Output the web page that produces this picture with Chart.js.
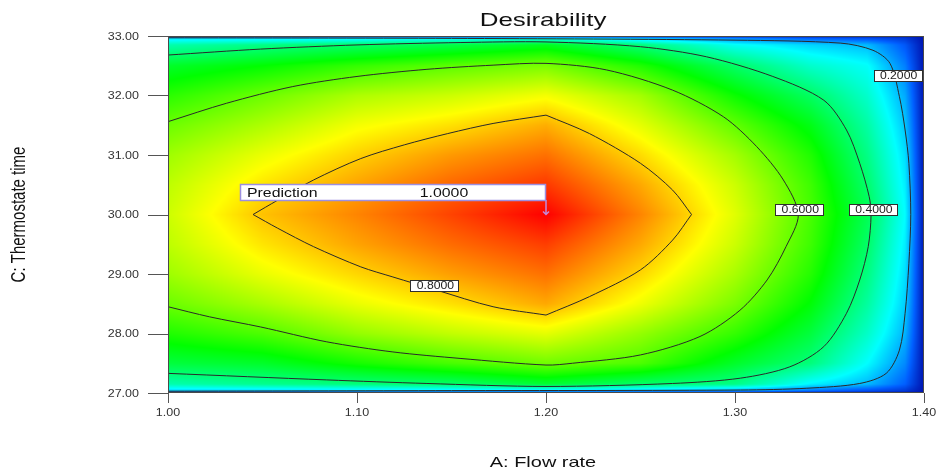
<!DOCTYPE html>
<html>
<head>
<meta charset="utf-8">
<title>Desirability</title>
<script src="https://cdn.jsdelivr.net/npm/chart.js@4.4.1/dist/chart.umd.min.js"></script>
<style>
  html, body { margin: 0; padding: 0; background: #fff; }
  #wrap { width: 946px; height: 468px; position: relative; }
</style>
</head>
<body>
<div id="wrap"><canvas id="desirabilityChart"></canvas></div>
<script>
// Response surface grid: columns follow A (flow rate), rows follow C (thermostate time)
const flowRate = [1.00, 1.05, 1.10, 1.15, 1.20, 1.25, 1.30, 1.34, 1.37, 1.39, 1.40];
const thermoTime = [27.00, 27.04, 27.15, 27.5, 28.0, 28.5, 29.0, 29.5, 30.0, 30.5, 31.0, 31.5, 32.0, 32.5, 32.85, 32.96, 33.00];
const desirability = [
  [0,    0,     0,    0,    0,     0,     0,     0,     0,     0,     0],
  [0.21, 0.21,  0.22, 0.22, 0.22,  0.20,  0.17,  0.12,  0.08,  0.05,  0],
  [0.33, 0.36,  0.38, 0.40, 0.45,  0.40,  0.37,  0.24,  0.185, 0.10,  0],
  [0.44, 0.46,  0.52, 0.57, 0.61,  0.575, 0.46,  0.38,  0.25,  0.14,  0],
  [0.53, 0.575, 0.645,0.69, 0.725, 0.645, 0.55,  0.44,  0.305, 0.18,  0],
  [0.605,0.665, 0.73, 0.78, 0.835, 0.735, 0.62,  0.495, 0.345, 0.205, 0],
  [0.655,0.73,  0.79, 0.845,0.89,  0.79,  0.665, 0.535, 0.375, 0.22,  0],
  [0.685,0.775, 0.84, 0.895,0.94,  0.835, 0.70,  0.56,  0.40,  0.235, 0],
  [0.70, 0.81,  0.87, 0.935,1.00,  0.87,  0.72,  0.57,  0.42,  0.25,  0],
  [0.685,0.775, 0.84, 0.90, 0.945, 0.835, 0.70,  0.56,  0.395, 0.235, 0],
  [0.655,0.73,  0.795,0.85, 0.89,  0.785, 0.66,  0.53,  0.37,  0.22,  0],
  [0.605,0.67,  0.74, 0.78, 0.83,  0.725, 0.595, 0.48,  0.34,  0.197, 0],
  [0.54, 0.605, 0.67, 0.70, 0.74,  0.66,  0.51,  0.405, 0.30,  0.17,  0],
  [0.46, 0.50,  0.55, 0.59, 0.62,  0.53,  0.40,  0.30,  0.255, 0.13,  0],
  [0.33, 0.37,  0.40, 0.43, 0.47,  0.38,  0.26,  0.21,  0.185, 0.09,  0],
  [0.22, 0.22,  0.23, 0.25, 0.27,  0.20,  0.14,  0.10,  0.08,  0.05,  0],
  [0,    0,     0,    0,    0,     0,     0,     0,     0,     0,     0]
];

// Contour lines [flow rate, thermostate time]
const contour02 = [[1.00,32.97],[1.15,32.96],[1.30,32.93],[1.356,32.88],[1.373,32.76],[1.382,32.54],[1.387,31.98],[1.390,31.42],[1.392,30.86],[1.393,30.00],[1.392,29.18],[1.390,28.34],[1.387,27.72],[1.380,27.33],[1.366,27.16],[1.338,27.08],[1.303,27.05],[1.15,27.04],[1.00,27.03]];
const contour04 = [[1.00,32.68],[1.049,32.78],[1.10,32.85],[1.155,32.89],[1.20,32.90],[1.25,32.82],[1.285,32.65],[1.320,32.32],[1.347,31.92],[1.359,31.42],[1.366,30.86],[1.371,30.30],[1.372,30.00],[1.3705,29.46],[1.366,28.90],[1.359,28.34],[1.347,27.78],[1.329,27.44],[1.303,27.25],[1.267,27.16],[1.20,27.11],[1.137,27.16],[1.084,27.22],[1.00,27.33]];
const contour06 = [[1.00,31.56],[1.031,31.87],[1.066,32.15],[1.10,32.32],[1.137,32.44],[1.172,32.51],[1.20,32.54],[1.232,32.43],[1.267,32.09],[1.294,31.64],[1.3115,31.14],[1.3256,30.58],[1.3335,30.00],[1.327,29.46],[1.317,28.90],[1.3026,28.39],[1.2815,27.95],[1.25,27.64],[1.214,27.50],[1.20,27.47],[1.155,27.58],[1.119,27.69],[1.084,27.86],[1.049,28.11],[1.022,28.28],[1.00,28.45]];
const contour08 = [[1.045,30.00],[1.058,30.24],[1.077,30.58],[1.102,30.94],[1.125,31.17],[1.148,31.36],[1.172,31.53],[1.200,31.67],[1.223,31.36],[1.250,30.86],[1.267,30.41],[1.277,30.00],[1.267,29.57],[1.250,29.07],[1.223,28.62],[1.200,28.31],[1.172,28.45],[1.142,28.73],[1.119,28.95],[1.102,29.12],[1.077,29.46],[1.058,29.77],[1.045,30.00]];
// the 0.8 ring has sharp corners at these points
const contour08Corners = [0, 7, 11, 15, 22];

const contourLevels = [0.2, 0.4, 0.6, 0.8];
const contourLabelAt = [[1.386, 32.35], [1.373, 30.10], [1.334, 30.10], [1.141, 28.82]];

const predictionAt = [1.20, 30.00];
const predictionValue = 1.0;

const xTicks = [1.00, 1.10, 1.20, 1.30, 1.40];
const yTicks = [27, 28, 29, 30, 31, 32, 33];

// blue -> cyan -> green -> yellow -> red
const colourStops = [
  [0.00, [0, 20, 175]],
  [0.10, [0, 95, 255]],
  [0.25, [0, 255, 255]],
  [0.50, [0, 255, 0]],
  [0.75, [255, 255, 0]],
  [1.00, [255, 0, 0]]
];

function colourFor(v) {
  v = Math.max(0, Math.min(1, v));
  for (let k = 1; k < colourStops.length; k++) {
    if (v <= colourStops[k][0]) {
      const [v0, c0] = colourStops[k - 1];
      const [v1, c1] = colourStops[k];
      const t = (v - v0) / (v1 - v0);
      return [0, 1, 2].map(n => Math.round(c0[n] + (c1[n] - c0[n]) * t));
    }
  }
  return colourStops[colourStops.length - 1][1];
}

function bracket(arr, v) {
  let i = 0;
  while (i < arr.length - 2 && v > arr[i + 1]) i++;
  const t = (v - arr[i]) / (arr[i + 1] - arr[i]);
  return [i, Math.max(0, Math.min(1, t))];
}

function surfaceAt(f, t) {
  const [i, u] = bracket(flowRate, f);
  const [j, w] = bracket(thermoTime, t);
  const a = desirability[j][i], b = desirability[j][i + 1];
  const c = desirability[j + 1][i], d = desirability[j + 1][i + 1];
  return (a * (1 - u) + b * u) * (1 - w) + (c * (1 - u) + d * u) * w;
}

const FONT = '"Liberation Sans", Arial, sans-serif';

// text drawn a little wider than the font's natural width
function wideText(ctx, str, x, y, size, sx, align, color, angle) {
  ctx.save();
  ctx.translate(x, y);
  ctx.scale(sx, 1);
  if (angle) ctx.rotate(angle);
  ctx.font = size + 'px ' + FONT;
  ctx.textAlign = align;
  ctx.textBaseline = 'alphabetic';
  ctx.fillStyle = color;
  ctx.fillText(str, 0, 0);
  ctx.restore();
}

const surfacePlugin = {
  id: 'surface',
  beforeDatasetsDraw(chart) {
    const { ctx, chartArea: a, scales } = chart;
    const w = Math.round(a.right - a.left), h = Math.round(a.bottom - a.top);
    const img = ctx.createImageData(w, h);
    for (let j = 0; j < h; j++) {
      const t = scales.y.getValueForPixel(a.top + j + 0.5);
      for (let i = 0; i < w; i++) {
        const f = scales.x.getValueForPixel(a.left + i + 0.5);
        const c = colourFor(surfaceAt(f, t));
        const k = (j * w + i) * 4;
        img.data[k] = c[0]; img.data[k + 1] = c[1]; img.data[k + 2] = c[2]; img.data[k + 3] = 255;
      }
    }
    ctx.putImageData(img, Math.round(a.left), Math.round(a.top));
  }
};

const annotationPlugin = {
  id: 'annotations',
  afterDatasetsDraw(chart) {
    const { ctx, scales: { x, y } } = chart;

    // contour value tags
    contourLevels.forEach((lvl, n) => {
      const cx = x.getPixelForValue(contourLabelAt[n][0]);
      const cy = y.getPixelForValue(contourLabelAt[n][1]);
      ctx.save();
      ctx.fillStyle = '#fff';
      ctx.strokeStyle = '#2e2e2e';
      ctx.lineWidth = 1;
      ctx.fillRect(Math.round(cx - 24), Math.round(cy - 5), 48, 11);
      ctx.strokeRect(Math.round(cx - 24) + 0.5, Math.round(cy - 5) + 0.5, 48, 11);
      ctx.restore();
      wideText(ctx, lvl.toFixed(4), cx + 1, cy + 4.5, 10, 1.22, 'center', '#222');
    });

    // prediction flag
    const px = x.getPixelForValue(predictionAt[0]);
    const py = y.getPixelForValue(predictionAt[1]);
    const boxTop = Math.round(py - 31), boxLeft = Math.round(px - 306);
    ctx.save();
    ctx.strokeStyle = '#c48ad8';
    ctx.lineWidth = 1.5;
    ctx.beginPath();
    ctx.moveTo(px, boxTop + 16);
    ctx.lineTo(px, py);
    ctx.moveTo(px - 3, py - 3);
    ctx.lineTo(px, py);
    ctx.lineTo(px + 3, py - 3);
    ctx.stroke();
    ctx.fillStyle = '#fff';
    ctx.fillRect(boxLeft, boxTop, px - boxLeft, 16);
    ctx.strokeStyle = '#9c8fe0';
    ctx.strokeRect(boxLeft + 0.5, boxTop + 0.5, px - boxLeft - 1, 16);
    ctx.restore();
    wideText(ctx, 'Prediction', boxLeft + 7, boxTop + 12.5, 13, 1.22, 'left', '#111');
    wideText(ctx, predictionValue.toFixed(4), px - 102, boxTop + 12.5, 13, 1.22, 'center', '#111');
  },
  afterDraw(chart) {
    const { ctx, chartArea: a, scales: { x, y } } = chart;
    ctx.save();
    ctx.strokeStyle = '#4a4a4a';
    ctx.lineWidth = 1;
    ctx.strokeRect(a.left + 0.5, a.top + 0.5, a.right - a.left - 1, a.bottom - a.top - 1);
    ctx.strokeStyle = '#555';
    ctx.beginPath();
    yTicks.forEach(v => {
      const p = Math.round(y.getPixelForValue(v)) + 0.5;
      ctx.moveTo(a.left - 20, p);
      ctx.lineTo(a.left, p);
    });
    xTicks.forEach(v => {
      const p = Math.round(x.getPixelForValue(v)) + 0.5;
      ctx.moveTo(p, a.bottom);
      ctx.lineTo(p, a.bottom + 10);
    });
    ctx.stroke();
    ctx.restore();

    yTicks.forEach(v => {
      wideText(ctx, v.toFixed(2), a.left - 29, y.getPixelForValue(v) + 3.5, 10, 1.25, 'right', '#333');
    });
    xTicks.forEach(v => {
      wideText(ctx, v.toFixed(2), x.getPixelForValue(v), a.bottom + 23, 10, 1.25, 'center', '#333');
    });

    const mid = (a.left + a.right) / 2 - 3;
    wideText(ctx, 'Desirability', mid, 26, 18.5, 1.4, 'center', '#111');
    wideText(ctx, 'A: Flow rate', mid, 467, 15, 1.33, 'center', '#111');
    wideText(ctx, 'C: Thermostate time', 25, (a.top + a.bottom) / 2, 15, 1.3, 'center', '#111', -Math.PI / 2);
  }
};

const toPoints = pts => pts.map(([fx, ty]) => ({ x: fx, y: ty }));

function contourSet(pts, tension) {
  return {
    data: toPoints(pts),
    showLine: true,
    borderColor: '#2a2a2a',
    borderWidth: 1,
    pointRadius: 0,
    tension: tension,
    fill: false
  };
}

// split the 0.8 ring at its corners so each side is smoothed on its own
const ring08 = contour08Corners.slice(0, -1).map((start, n) =>
  contourSet(contour08.slice(start, contour08Corners[n + 1] + 1), 0.3));

const chart = new Chart(document.getElementById('desirabilityChart'), {
  type: 'scatter',
  data: {
    datasets: [
      contourSet(contour02, 0.3),
      contourSet(contour04, 0.3),
      contourSet(contour06, 0.3),
      ...ring08
    ]
  },
  options: {
    responsive: true,
    maintainAspectRatio: false,
    animation: false,
    events: [],
    layout: { padding: { left: 168, right: 22, top: 36, bottom: 75 } },
    scales: {
      x: { type: 'linear', min: 1.0, max: 1.4, display: false },
      y: { type: 'linear', min: 27, max: 33, display: false }
    },
    plugins: {
      legend: { display: false },
      tooltip: { enabled: false },
      title: { display: false }
    }
  },
  plugins: [surfacePlugin, annotationPlugin]
});
</script>
</body>
</html>
